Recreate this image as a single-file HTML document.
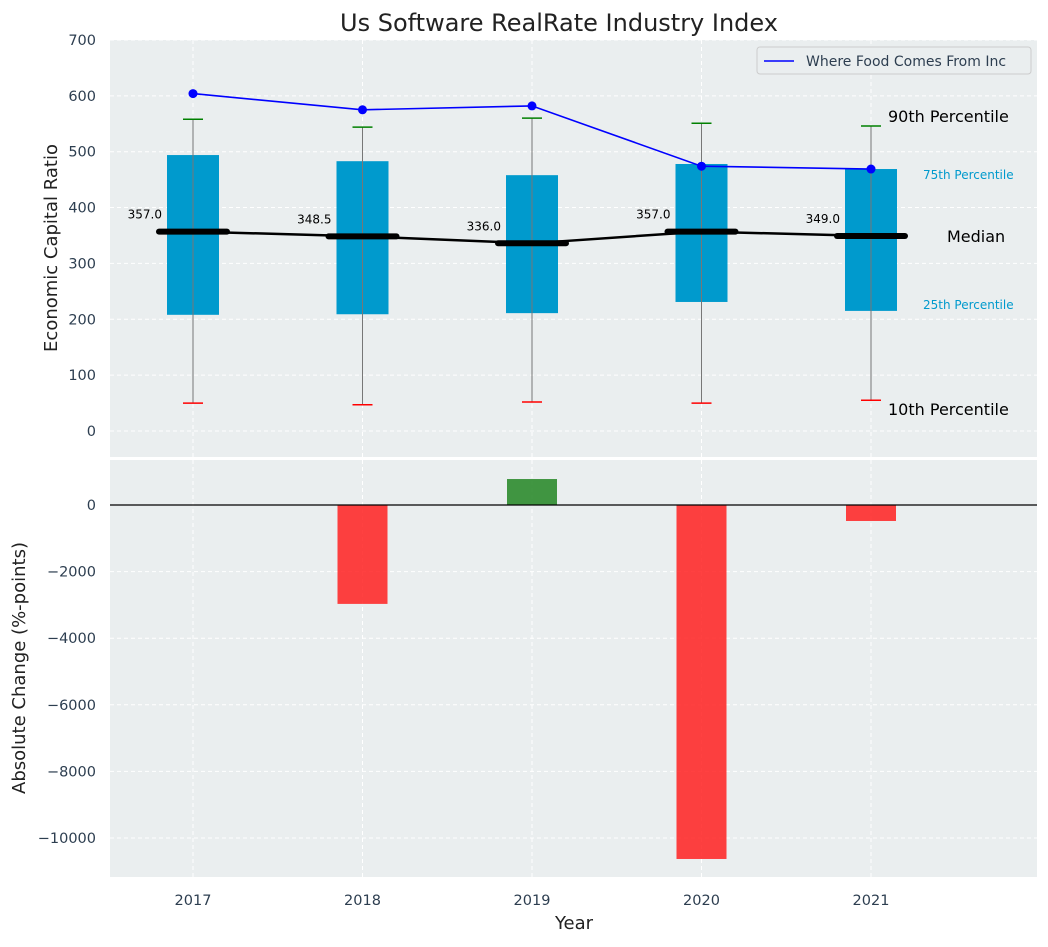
<!DOCTYPE html>
<html><head><meta charset="utf-8"><style>
body{margin:0;background:#fff;font-family:"Liberation Sans","DejaVu Sans",sans-serif}
svg text{font-family:"DejaVu Sans","Liberation Sans",sans-serif}
</style></head><body>
<svg id="c" width="1048" height="942" xmlns="http://www.w3.org/2000/svg"></svg>
<script>
const years=["2017","2018","2019","2020","2021"];
const p10=[50,47,52,50,55];
const p25=[208,209,211,231,215];
const medians=[357,348.5,336,357,349];
const p75=[494,483,458,478,469];
const p90=[558,544,560,551,546];
const companyValues=[604,575,582,474,469];
const changes=[0,-2970,780,-10630,-480];
const topTicks=[0,100,200,300,400,500,600,700];
const botTicks=[0,-2000,-4000,-6000,-8000,-10000];
const NS="http://www.w3.org/2000/svg";
const svg=document.getElementById('c');
function el(t,a,txt){const e=document.createElementNS(NS,t);for(const k in a)e.setAttribute(k,a[k]);if(txt!==undefined)e.textContent=txt;svg.appendChild(e);return e;}
const L=110,R=1037;
const x=i=>193+i*169.5;
const yT=v=>431-v*0.5586;
const yB=v=>505-v*0.0333;
let e;
e=el('rect',{x:L,y:40,width:R-L,height:417,fill:'#eaeeef'});

e=el('rect',{x:L,y:460,width:R-L,height:417,fill:'#eaeeef'});

topTicks.forEach(v=>{const y=yT(v);
 e=el('line',{x1:L,x2:R,y1:y,y2:y,stroke:'#fff','stroke-dasharray':'4,3','stroke-width':1});
 
 e=el('text',{x:96,y:y+5,'text-anchor':'end','font-size':14.5,fill:'#2d3e50'},v);
 });
botTicks.forEach(v=>{const y=yB(v);
 e=el('line',{x1:L,x2:R,y1:y,y2:y,stroke:'#fff','stroke-dasharray':'4,3','stroke-width':1});
 
 e=el('text',{x:96,y:y+5,'text-anchor':'end','font-size':14.5,fill:'#2d3e50'},v<0?'\u2212'+(-v):v);
 });
years.forEach((yr,i)=>{
 [[40,457],[460,877]].forEach(r=>{e=el('line',{x1:x(i),x2:x(i),y1:r[0],y2:r[1],stroke:'#fff','stroke-dasharray':'4,3'});
 });
 e=el('text',{x:x(i),y:905,'text-anchor':'middle','font-size':14.5,fill:'#2d3e50'},yr);
 
});
years.forEach((yr,i)=>{
 e=el('rect',{x:x(i)-26,y:yT(p75[i]),width:52,height:yT(p25[i])-yT(p75[i]),fill:'#009acd'});
 
 e=el('line',{x1:x(i),x2:x(i),y1:yT(p90[i]),y2:yT(p10[i]),stroke:'#777','stroke-width':1});
 
 e=el('line',{x1:x(i)-10,x2:x(i)+10,y1:yT(p90[i]),y2:yT(p90[i]),stroke:'green','stroke-width':1.5});
 
 e=el('line',{x1:x(i)-10,x2:x(i)+10,y1:yT(p10[i]),y2:yT(p10[i]),stroke:'red','stroke-width':1.5});
 
});
e=el('polyline',{points:medians.map((m,i)=>x(i)+','+yT(m)).join(' '),fill:'none',stroke:'#000','stroke-width':2.5});

years.forEach((yr,i)=>{
 e=el('line',{x1:x(i)-34,x2:x(i)+34,y1:yT(medians[i]),y2:yT(medians[i]),stroke:'#000','stroke-width':6,'stroke-linecap':'round'});
 
 e=el('text',{x:x(i)-31,y:yT(medians[i])-13,'text-anchor':'end','font-size':12,fill:'#000'},medians[i].toFixed(1));
 
});
e=el('polyline',{points:companyValues.map((v,i)=>x(i)+','+yT(v)).join(' '),fill:'none',stroke:'blue','stroke-width':1.6});

companyValues.forEach((v,i)=>{e=el('circle',{cx:x(i),cy:yT(v),r:4.5,fill:'blue'});
 });
[[888,122,'90th Percentile',16,'#000'],[923,179,'75th Percentile',12,'#009acd'],[947,242,'Median',16,'#000'],[923,309,'25th Percentile',12,'#009acd'],[888,415,'10th Percentile',16,'#000']].forEach(a=>{
 e=el('text',{x:a[0],y:a[1],'font-size':a[3],fill:a[4]},a[2]);
 });
e=el('rect',{x:757,y:47,width:274,height:27,fill:'#eaeeef',stroke:'#ccc',rx:3});

e=el('line',{x1:764,x2:794,y1:61,y2:61,stroke:'blue','stroke-width':1.6});

e=el('text',{x:806,y:66,'font-size':14,fill:'#2d3e50'},'Where Food Comes From Inc');

changes.forEach((v,i)=>{if(v===0)return;
 const y0=yB(Math.max(v,0)),y1=yB(Math.min(v,0));
 e=el('rect',{x:x(i)-25,y:y0,width:50,height:y1-y0,fill:v>0?'#2e8b2e':'#ff2020','fill-opacity':v>0?0.9:0.85});
 });
e=el('line',{x1:L,x2:R,y1:yB(0),y2:yB(0),stroke:'#000','stroke-width':1.2});

e=el('text',{x:559,y:31,'text-anchor':'middle','font-size':24,fill:'#222'},'Us Software RealRate Industry Index');

e=el('text',{x:574,y:929,'text-anchor':'middle','font-size':18,fill:'#222'},'Year');

e=el('text',{x:57,y:248,'text-anchor':'middle','font-size':18,fill:'#222',transform:'rotate(-90 57 248)'},'Economic Capital Ratio');

e=el('text',{x:25,y:668,'text-anchor':'middle','font-size':18,fill:'#222',transform:'rotate(-90 25 668)'},'Absolute Change (%-points)');

</script>
</body></html>
